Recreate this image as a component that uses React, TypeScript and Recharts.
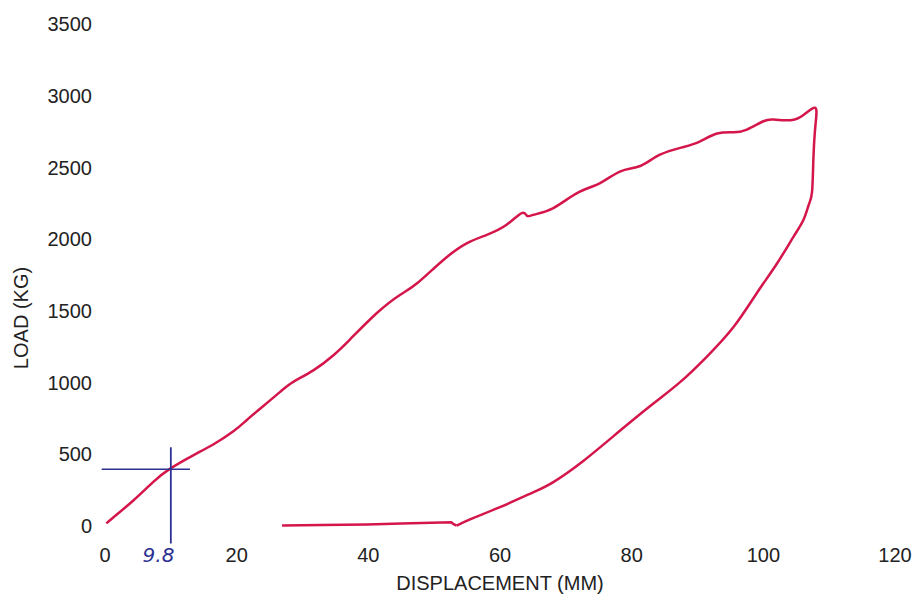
import React from "react";
import {
  LineChart,
  Line,
  XAxis,
  YAxis,
  ReferenceLine,
  Label,
} from "recharts";

// loading branch (mm, kg)
const loadDisp = [
  0.2, 1.3, 4.3, 7.3, 9.9, 13.4, 16.5, 19.5, 21.5, 23.6, 26.6, 28.6, 31.7, 34.7,
  37.2, 41.3, 44.8, 47.4, 51.4, 55.0, 58.0, 61.0, 63.3, 64.1, 65.1, 68.1, 71.7,
  75.2, 78.3, 81.3, 84.3, 87.9, 90.4, 93.0, 95.5, 97.5, 100.0, 101.6, 104.1,
  106.1, 107.9,
];
const loadKg = [
  18, 61, 178, 306, 400, 493, 570, 660, 737, 819, 935, 1005, 1087, 1191, 1300,
  1485, 1611, 1692, 1855, 1972, 2030, 2100, 2182, 2163, 2170, 2217, 2321, 2391,
  2473, 2510, 2589, 2643, 2682, 2736, 2745, 2764, 2822, 2834, 2829, 2866, 2915,
];

// unloading branch
const unloadDisp = [
  107.9, 107.6, 107.4, 106.9, 106.1, 104.6, 102.1, 99.0, 95.5, 91.4, 87.4, 83.3,
  78.3, 72.7, 68.1, 65.1, 60.0, 56.0, 53.4,
];
const unloadKg = [
  2787, 2554, 2330, 2240, 2135, 2018, 1832, 1623, 1389, 1180, 1005, 854, 667,
  455, 306, 236, 131, 57, 3,
];

// return stroke at (almost) zero load
const returnDisp = [53.4, 52.9, 52.6, 45.0, 39.8, 33.0, 26.9];
const returnKg = [3, 14, 26, 17, 10, 7, 3];

const xTicks = [0, 9.8, 20, 40, 60, 80, 100, 120];
const yTicks = [0, 500, 1000, 1500, 2000, 2500, 3000, 3500];

// hand-drawn marker
const markX = 10;
const markLoad = 395;

const curveData = [
  ...loadDisp.map((d, i) => ({ disp: d, load: loadKg[i] })),
  ...unloadDisp.map((d, i) => ({ disp: d, load: unloadKg[i] })),
];
const returnData = returnDisp.map((d, i) => ({ disp: d, load: returnKg[i] }));

const FONT = "'Liberation Sans', Arial, sans-serif";
const RED = "#d4164b";
const BLUE = "#2c3090";

function XTick(props: any) {
  const { x, y, payload } = props;
  if (payload.value === 9.8) {
    return (
      <text
        x={x - 11}
        y={y}
        dy="0.71em"
        textAnchor="middle"
        fill={BLUE}
        fontSize={20}
        fontStyle="italic"
        fontFamily="'DejaVu Sans', sans-serif"
      >
        9.8
      </text>
    );
  }
  return (
    <text x={x} y={y} dy="0.71em" textAnchor="middle" fill="#222" fontSize={20} fontFamily={FONT}>
      {payload.value}
    </text>
  );
}

export default function App() {
  return (
    <div style={{ position: "absolute", left: 0, top: 0, background: "#fff" }}>
      <LineChart
        width={913}
        height={598}
        margin={{ top: 24, right: 18, left: 0, bottom: 0 }}
      >
        <XAxis
          dataKey="disp"
          type="number"
          domain={[0, 120]}
          ticks={xTicks}
          interval={0}
          tickLine={false}
          axisLine={false}
          tickSize={6}
          tickMargin={16}
          height={72}
          tick={<XTick />}
        >
          <Label
            value="DISPLACEMENT (MM)"
            position="insideBottom"
            offset={8}
            fill="#222"
            fontSize={20}
            fontFamily={FONT}
          />
        </XAxis>
        <YAxis
          type="number"
          domain={[0, 3500]}
          ticks={yTicks}
          interval={0}
          tickLine={false}
          axisLine={false}
          width={105}
          tickSize={6}
          tickMargin={7}
          tick={{ fill: "#222", fontSize: 20, fontFamily: FONT }}
        >
          <Label
            content={() => (
              <text
                x={28}
                y={318}
                textAnchor="middle"
                transform="rotate(-90, 28, 318)"
                fill="#222"
                fontSize={20}
                fontFamily={FONT}
              >
                LOAD (KG)
              </text>
            )}
          />
        </YAxis>
        <Line
          data={curveData}
          type="natural"
          dataKey="load"
          stroke={RED}
          strokeWidth={2.5}
          dot={false}
          isAnimationActive={false}
        />
        <Line
          data={returnData}
          type="linear"
          dataKey="load"
          stroke={RED}
          strokeWidth={2.5}
          dot={false}
          isAnimationActive={false}
        />
        <ReferenceLine
          segment={[
            { x: -0.5, y: markLoad },
            { x: 12.9, y: markLoad },
          ]}
          stroke={BLUE}
          strokeWidth={1.5}
          ifOverflow="visible"
        />
        <ReferenceLine
          segment={[
            { x: markX, y: 549 },
            { x: markX, y: -122 },
          ]}
          stroke={BLUE}
          strokeWidth={1.8}
          ifOverflow="visible"
        />
      </LineChart>
    </div>
  );
}
